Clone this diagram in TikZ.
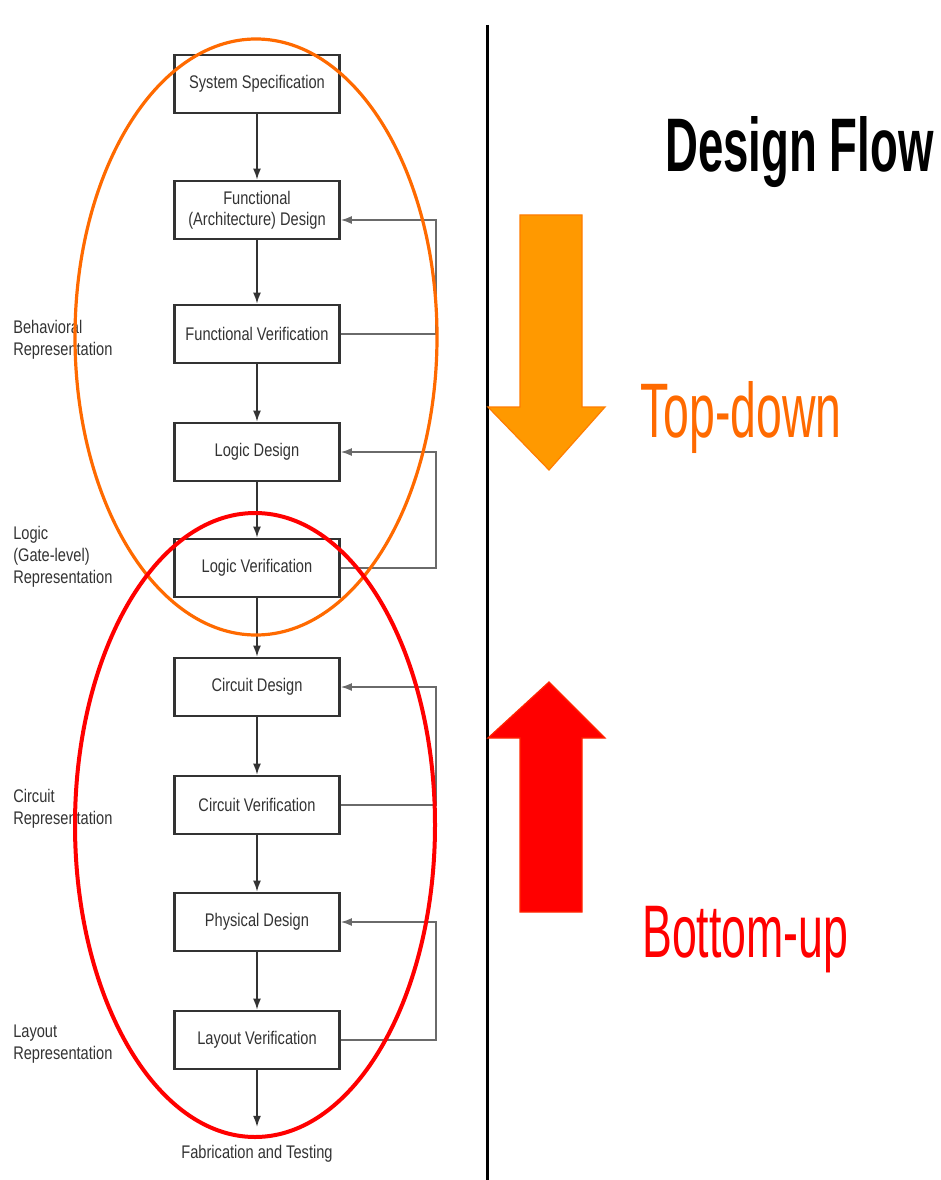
\documentclass[tikz,border=0pt]{standalone}
\usepackage{fontspec}
\setmainfont{Liberation Sans}
\newfontfamily\boxfont[FakeStretch=0.8]{Liberation Sans}
\newfontfamily\bigfont[FakeStretch=0.6]{Liberation Sans}
\usetikzlibrary{arrows.meta}
\definecolor{ovalorange}{HTML}{FF6A00}
\definecolor{arroworange}{HTML}{FF9900}
\definecolor{boxgray}{HTML}{333333}
\definecolor{linegray}{HTML}{6A6A6A}

\begin{document}
\begin{tikzpicture}[
		x=0.25mm, y=-0.25mm,
		box/.style={draw=boxgray,line width=0.6mm,fill=white,minimum width=41.25mm,
			minimum height=14.5mm,inner sep=1pt,align=center,text=boxgray,
			font=\boxfont\fontsize{13}{15}\selectfont},
		side label/.style={anchor=west,align=left,text=boxgray,inner sep=0pt,
			font=\boxfont\fontsize{13}{15.6}\selectfont},
		big label/.style={anchor=base west,inner sep=0pt,font=\bigfont\fontsize{55}{60}\selectfont},
		flow/.style={-{Latex[length=2.8mm,width=2mm]},line width=0.45mm,boxgray},
		fb/.style={flow,linegray,line width=0.4mm}
		]
		\useasboundingbox (0,0) rectangle (940,1180);

		\node[box] (spec) at (257,84)   {System Specification};
		\node[box] (arch) at (257,210)  {Functional\\(Architecture) Design};
		\node[box] (fver) at (257,334)  {Functional Verification};
		\node[box] (ldes) at (257,452)  {Logic Design};
		\node[box] (lver) at (257,568)  {Logic Verification};
		\node[box] (cdes) at (257,687)  {Circuit Design};
		\node[box] (cver) at (257,805)  {Circuit Verification};
		\node[box] (pdes) at (257,922)  {Physical Design};
		\node[box] (lay)  at (257,1040) {Layout Verification};
		\node[text=boxgray,font=\boxfont\fontsize{13}{15}\selectfont,anchor=north,
			inner xsep=0pt,inner ysep=4.5mm] (fab) at (257,1127) {Fabrication and Testing};

		\node[side label] (beh)  at (13,340)  {Behavioral\\Representation};
		\node[side label] (gate) at (13,557)  {Logic\\(Gate-level)\\Representation};
		\node[side label] (circ) at (13,809)  {Circuit\\Representation};
		\node[side label] (lrep) at (13,1044) {Layout\\Representation};

		\draw[flow] (spec) -- (arch);
		\draw[flow] (arch) -- (fver);
		\draw[flow] (fver) -- (ldes);
		\draw[flow] (ldes) -- (lver);
		\draw[flow] (lver) -- (cdes);
		\draw[flow] (cdes) -- (cver);
		\draw[flow] (cver) -- (pdes);
		\draw[flow] (pdes) -- (lay);
		\draw[flow] (lay) -- (fab);

		% verification loops back to the design step
		\draw[fb] (fver.east) -- ++(95,0) |- ([yshift=-2.5mm]arch.east);
		\draw[fb] (lver.east) -- ++(95,0) |- (ldes.east);
		\draw[fb] (cver.east) -- ++(95,0) |- (cdes.east);
		\draw[fb] (lay.east) -- ++(95,0) |- (pdes.east);

		\draw[ovalorange,line width=0.8mm] (256,337) ellipse (181 and 298);
		\draw[red,line width=1mm] (255,825) ellipse (180 and 312);

		\draw[black,line width=0.75mm] (487,25) -- (487,1180);

		\node[big label,font=\bigfont\bfseries\fontsize{54}{60}\selectfont] (title) at (665,172) {Design Flow};
		\node[big label,text=ovalorange] (td) at (640,437) {Top-down};
		\node[big label,text=red,font=\bigfont\fontsize{53}{60}\selectfont] (bu) at (642,957) {Bottom-up};

		\filldraw[fill=arroworange,draw=ovalorange!60!arroworange,line width=0.3mm]
			(520,215) -- (582,215) -- (582,407) -- (605,407) -- (549,470) -- (488,407) -- (520,407) -- cycle;
		\filldraw[fill=red,draw=red!70!orange,line width=0.3mm]
			(549,682) -- (605,738) -- (582,738) -- (582,912) -- (520,912) -- (520,738) -- (488,738) -- cycle;
	\end{tikzpicture}
\end{document}
